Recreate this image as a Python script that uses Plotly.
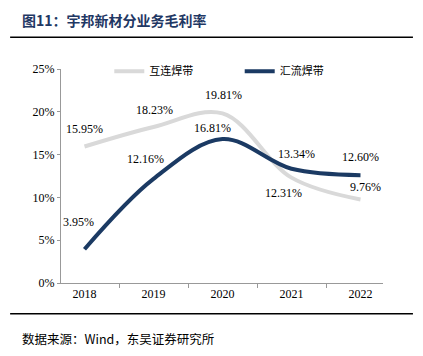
import plotly.graph_objects as go

years = ["2018", "2019", "2020", "2021", "2022"]
hulian = [15.95, 18.23, 19.81, 12.31, 9.76]   # 互连焊带
huiliu = [3.95, 12.16, 16.81, 13.34, 12.60]   # 汇流焊带
y_ticks = [0, 5, 10, 15, 20, 25]
y_tick_labels = ["0%", "5%", "10%", "15%", "20%", "25%"]

GRAY = "#d9d9d9"
NAVY = "#1b3a63"
SERIF = "Liberation Serif"
CJK = "Noto Sans CJK SC"

fig = go.Figure()
fig.add_trace(go.Scatter(x=years, y=hulian, name="互连焊带", mode="lines", legend="legend",
                         line=dict(color=GRAY, width=4, shape="spline", smoothing=1.0)))
fig.add_trace(go.Scatter(x=years, y=huiliu, name="汇流焊带", mode="lines", legend="legend2",
                         line=dict(color=NAVY, width=4, shape="spline", smoothing=1.0)))

# data labels: (xshift, yshift)
gray_shift = [(0, 17), (1, 17), (1, 18), (-8, -15), (5, 12)]
navy_shift = [(-6, 27), (-8, 20), (-10, 11), (5, 15), (0, 18)]
for i, v in enumerate(hulian):
    fig.add_annotation(x=i, y=v, text=f"{v:.2f}%", showarrow=False,
                       xshift=gray_shift[i][0], yshift=gray_shift[i][1],
                       font=dict(family=SERIF, size=12, color="#000000"))
for i, v in enumerate(huiliu):
    fig.add_annotation(x=i, y=v, text=f"{v:.2f}%", showarrow=False,
                       xshift=navy_shift[i][0], yshift=navy_shift[i][1],
                       font=dict(family=SERIF, size=12, color="#000000"))

# title and source
fig.add_annotation(xref="paper", yref="paper", x=-0.127, y=1.227, xanchor="left", yanchor="middle",
                   text="<b>图11：宇邦新材分业务毛利率</b>", showarrow=False,
                   font=dict(family=CJK, size=14, color="#1f3864"))
fig.add_annotation(xref="paper", yref="paper", x=-0.127, y=-0.259, xanchor="left", yanchor="middle",
                   text="数据来源：Wind，东吴证券研究所", showarrow=False,
                   font=dict(family=CJK, size=12.5, color="#000000"))
fig.add_shape(type="line", xref="paper", yref="paper", x0=-0.158, x1=1.093, y0=1.148, y1=1.148,
              line=dict(color="#000000", width=1.5))
fig.add_shape(type="line", xref="paper", yref="paper", x0=-0.158, x1=1.093, y0=-0.1435, y1=-0.1435,
              line=dict(color="#000000", width=1.5))

leg_common = dict(orientation="h", yanchor="middle", xanchor="left",
                  font=dict(family=CJK, size=11, color="#000000"),
                  bgcolor="rgba(0,0,0,0)", itemwidth=30)
fig.update_layout(
    width=423, height=356,
    margin=dict(l=61, r=40, t=69, b=73),
    paper_bgcolor="white", plot_bgcolor="white",
    showlegend=True,
    legend=dict(x=0.15, y=0.99, **leg_common),
    legend2=dict(x=0.555, y=0.99, **leg_common),
    font=dict(family=SERIF, size=11, color="#000000"),
)
fig.update_xaxes(type="category", showline=True, linecolor="#999999", linewidth=1,
                 ticks="outside", tickson="boundaries", ticklen=4, tickcolor="#999999",
                 showgrid=False, tickfont=dict(family=SERIF, size=12))
fig.update_yaxes(range=[0, 25], tickvals=y_ticks, ticktext=y_tick_labels,
                 showline=True, linecolor="#999999", linewidth=1,
                 ticks="outside", ticklen=3, tickcolor="#999999",
                 showgrid=False, zeroline=False, tickfont=dict(family=SERIF, size=12))

fig.write_html("out.html", config={"displayModeBar": False},
               post_script="document.body.style.margin='0';")
